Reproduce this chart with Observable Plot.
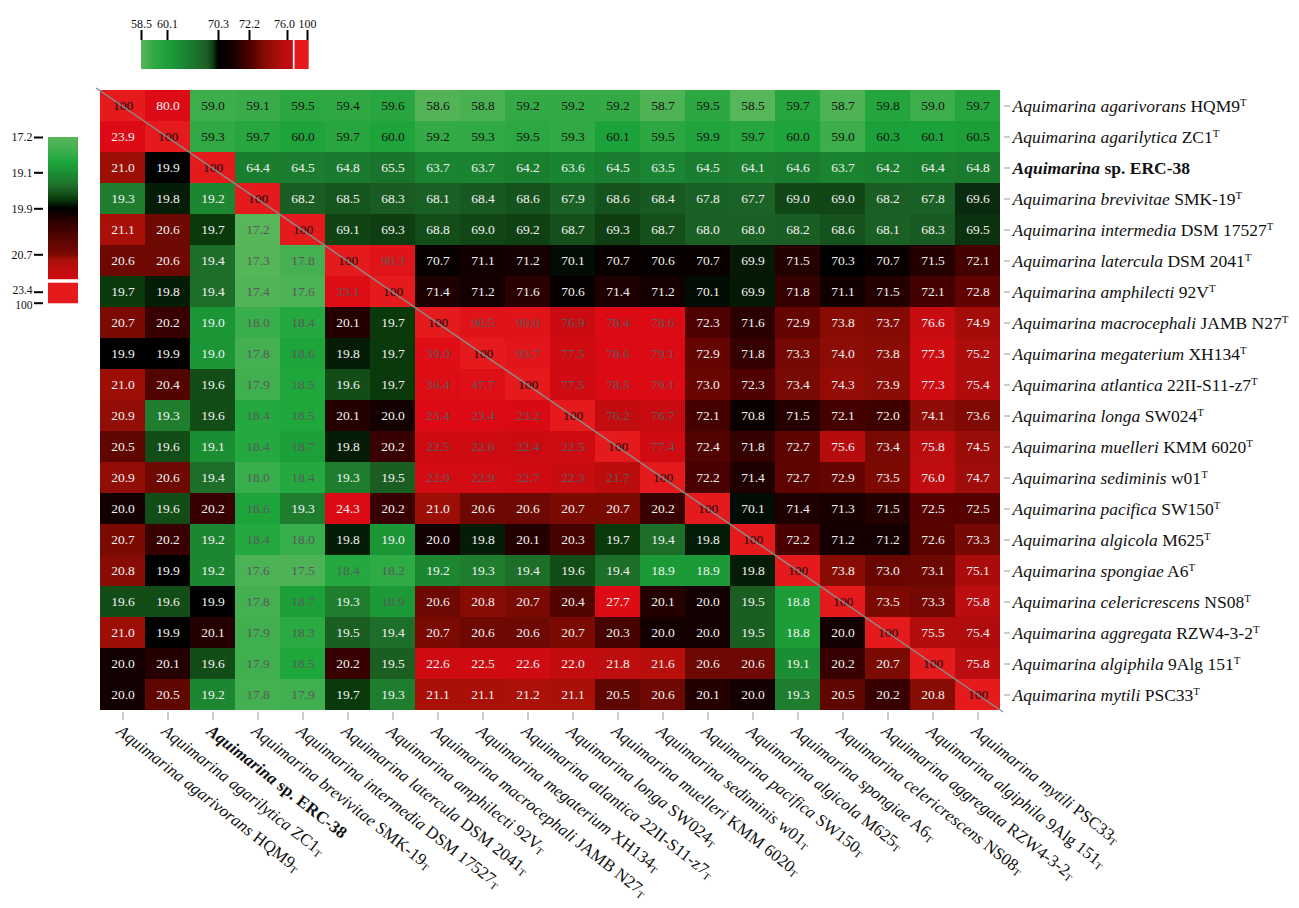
<!DOCTYPE html>
<html><head><meta charset="utf-8">
<script src="https://cdn.jsdelivr.net/npm/d3@7"></script>
<script src="https://cdn.jsdelivr.net/npm/@observablehq/plot@0.6"></script>
<style>
body{margin:0;background:#fff;}
#wrap{position:relative;width:1299px;height:908px;overflow:hidden;}
#wrap svg{position:absolute;left:0;top:0;max-width:none;}
</style></head><body><div id="wrap"></div>
<script>
const FONT = '"Liberation Serif","Times New Roman",serif';

// ---------- data ----------
const genus = "Aquimarina";
const epithets = ["agarivorans","agarilytica","sp.","brevivitae","intermedia","latercula","amphilecti","macrocephali","megaterium","atlantica","longa","muelleri","sediminis","pacifica","algicola","spongiae","celericrescens","aggregata","algiphila","mytili"];
const strains = ["HQM9","ZC1","ERC-38","SMK-19","DSM 17527","DSM 2041","92V","JAMB N27","XH134","22II-S11-z7","SW024","KMM 6020","w01","SW150","M625","A6","NS08","RZW4-3-2","9Alg 151","PSC33"];
const isTypeStrain = [true,true,false,true,true,true,true,true,true,true,true,true,true,true,true,true,true,true,true,true];
const focalIndex = 2;
// same-species groups (cells inside a group have dimmed text)
const clusterIds = [0,1,2,3,4,5,5,6,6,6,6,6,6,7,8,9,10,11,12,13];

// upper triangle: ANI (%), lower triangle: dDDH (%)
const matrixRows = [
  [100,80.0,59.0,59.1,59.5,59.4,59.6,58.6,58.8,59.2,59.2,59.2,58.7,59.5,58.5,59.7,58.7,59.8,59.0,59.7],
  [23.9,100,59.3,59.7,60.0,59.7,60.0,59.2,59.3,59.5,59.3,60.1,59.5,59.9,59.7,60.0,59.0,60.3,60.1,60.5],
  [21.0,19.9,100,64.4,64.5,64.8,65.5,63.7,63.7,64.2,63.6,64.5,63.5,64.5,64.1,64.6,63.7,64.2,64.4,64.8],
  [19.3,19.8,19.2,100,68.2,68.5,68.3,68.1,68.4,68.6,67.9,68.6,68.4,67.8,67.7,69.0,69.0,68.2,67.8,69.6],
  [21.1,20.6,19.7,17.2,100,69.1,69.3,68.8,69.0,69.2,68.7,69.3,68.7,68.0,68.0,68.2,68.6,68.1,68.3,69.5],
  [20.6,20.6,19.4,17.3,17.8,100,90.3,70.7,71.1,71.2,70.1,70.7,70.6,70.7,69.9,71.5,70.3,70.7,71.5,72.1],
  [19.7,19.8,19.4,17.4,17.6,33.1,100,71.4,71.2,71.6,70.6,71.4,71.2,70.1,69.9,71.8,71.1,71.5,72.1,72.8],
  [20.7,20.2,19.0,18.0,18.4,20.1,19.7,100,90.5,90.0,76.9,78.4,78.6,72.3,71.6,72.9,73.8,73.7,76.6,74.9],
  [19.9,19.9,19.0,17.8,18.6,19.8,19.7,39.0,100,93.7,77.5,78.6,79.1,72.9,71.8,73.3,74.0,73.8,77.3,75.2],
  [21.0,20.4,19.6,17.9,18.5,19.6,19.7,36.4,47.7,100,77.5,78.5,79.1,73.0,72.3,73.4,74.3,73.9,77.3,75.4],
  [20.9,19.3,19.6,18.4,18.5,20.1,20.0,23.4,23.4,23.2,100,76.2,76.7,72.1,70.8,71.5,72.1,72.0,74.1,73.6],
  [20.5,19.6,19.1,18.4,18.7,19.8,20.2,22.5,22.6,22.4,22.5,100,77.4,72.4,71.8,72.7,75.6,73.4,75.8,74.5],
  [20.9,20.6,19.4,18.0,18.4,19.3,19.5,22.9,22.9,22.7,22.3,21.7,100,72.2,71.4,72.7,72.9,73.5,76.0,74.7],
  [20.0,19.6,20.2,18.6,19.3,24.3,20.2,21.0,20.6,20.6,20.7,20.7,20.2,100,70.1,71.4,71.3,71.5,72.5,72.5],
  [20.7,20.2,19.2,18.4,18.0,19.8,19.0,20.0,19.8,20.1,20.3,19.7,19.4,19.8,100,72.2,71.2,71.2,72.6,73.3],
  [20.8,19.9,19.2,17.6,17.5,18.4,18.2,19.2,19.3,19.4,19.6,19.4,18.9,18.9,19.8,100,73.8,73.0,73.1,75.1],
  [19.6,19.6,19.9,17.8,18.7,19.3,18.9,20.6,20.8,20.7,20.4,27.7,20.1,20.0,19.5,18.8,100,73.5,73.3,75.8],
  [21.0,19.9,20.1,17.9,18.3,19.5,19.4,20.7,20.6,20.6,20.7,20.3,20.0,20.0,19.5,18.8,20.0,100,75.5,75.4],
  [20.0,20.1,19.6,17.9,18.5,20.2,19.5,22.6,22.5,22.6,22.0,21.8,21.6,20.6,20.6,19.1,20.2,20.7,100,75.8],
  [20.0,20.5,19.2,17.8,17.9,19.7,19.3,21.1,21.1,21.2,21.1,20.5,20.6,20.1,20.0,19.3,20.5,20.2,20.8,100]
];

const topLegendTicks = [58.5,60.1,70.3,72.2,76.0,100];
const leftLegendTicks = [17.2,19.1,19.9,20.7,23.4,100];

// colour ramps
const upperStops  = [58.5,59.2,60.1,64.5,68.2,69.3,70.3,71.2,72.2,73.8,76.0,78.5,100];
const upperColors = ["#58b65a","#34aa46","#1ca23a","#1a7d2f","#1a5e24","#0e3e12","#000000","#140000","#4a0000","#880c04","#c00c10","#dc0a14","#e41a1c"];
const lowerStops  = [17.2,17.8,18.5,19.0,19.3,19.5,19.7,19.9,20.2,20.7,21.1,22.0,23.4,100];
const lowerColors = ["#58b65a","#44b052","#1ea83c","#1a9636","#1e7e2e","#1a5e22","#0a3a0c","#000000","#380000","#7a0a02","#a81008","#c40c10","#dc0a14","#e41a1c"];

// ---------- scales ----------
const upperColor = Plot.scale({color:{type:"linear",domain:upperStops,range:upperColors,clamp:true,interpolate:"rgb"}});
const lowerColor = Plot.scale({color:{type:"linear",domain:lowerStops,range:lowerColors,clamp:true,interpolate:"rgb"}});

const names = epithets.map((e,i)=>`${genus} ${e} ${strains[i]}`);
const cells = [];
matrixRows.forEach((row,i)=>row.forEach((v,j)=>cells.push({i,j,v})));

const fillOf = d => d.j >= d.i ? upperColor.apply(d.v) : lowerColor.apply(d.v);
function textColorOf(d){
  if (d.i === d.j) return "#111";
  if (clusterIds[d.i] === clusterIds[d.j]) return "#5a5a5a";
  if (d.j > d.i) return d.v < 61 ? "#111" : "#f2f2f2";
  return (d.v < 18.8 || (d.j < 7 && d.v < 19.0)) ? "#5a5a5a" : "#f2f2f2";
}
const fmt = v => v === 100 ? "100" : v.toFixed(1);

// ---------- main heatmap ----------
const chart = Plot.plot({
  width:1299, height:908,
  marginLeft:96, marginRight:296, marginTop:88, marginBottom:196,
  style:{background:"transparent", fontFamily:FONT, overflow:"visible"},
  x:{domain:names, padding:0},
  y:{domain:names, padding:0},
  marks:[
    Plot.cell(cells,{x:d=>names[d.j], y:d=>names[d.i], fill:fillOf, shapeRendering:"crispEdges"}),
    Plot.text(cells,{x:d=>names[d.j], y:d=>names[d.i], text:d=>fmt(d.v), fill:textColorOf, fontSize:13.5, fontFamily:FONT}),
    Plot.axisY({anchor:"right", tickSize:6, tickPadding:3, stroke:"#999", fill:"#111", fontSize:17.5, fontFamily:FONT, tickFormat:d=>d}),
    Plot.axisX({anchor:"bottom", tickSize:8, tickPadding:3, tickRotate:38, textAnchor:"start", lineAnchor:"top", stroke:"#999", fill:"#111", fontSize:17, fontFamily:FONT, tickFormat:d=>d})
  ]
});
document.getElementById("wrap").appendChild(chart);

// rich tick labels (italic names, bold focal strain, superscript T)
const idxOf = new Map(names.map((n,i)=>[n,i]));
function richLabel(el, i, axis){
  const t = d3.select(el);
  t.text(null);
  if (i === focalIndex){
    t.append("tspan").attr("font-weight","bold").attr("font-style","italic").text(genus);
    t.append("tspan").attr("font-weight","bold").text(` ${epithets[i]} ${strains[i]}`);
  } else {
    t.append("tspan").attr("font-style","italic").text(`${genus} ${epithets[i]}`);
    t.append("tspan").text(` ${strains[i]}`);
    if (isTypeStrain[i]) t.append("tspan").attr("font-size","0.62em").attr("dy", axis==="y" ? "-0.55em" : "0.2em").text("T");
  }
}
const svg = d3.select(chart);
svg.selectAll('g[aria-label="y-axis tick label"] text').each(function(){ const i = idxOf.get(this.textContent); if (i != null) richLabel(this,i,"y"); });
svg.selectAll('g[aria-label="x-axis tick label"] text').each(function(){ const i = idxOf.get(this.textContent); if (i != null) richLabel(this,i,"x"); });

// diagonal line
const xs = chart.scale("x"), ys = chart.scale("y");
svg.append("line")
  .attr("x1", xs.range[0]).attr("y1", ys.range[0])
  .attr("x2", xs.range[1]).attr("y2", ys.range[1])
  .attr("stroke","#8c8c8c").attr("stroke-width",1.4);

// ---------- legends ----------
function addGradient(plotSvg, id, horizontal, scale, colorScale, v0, v1, cap){
  const s = d3.select(plotSvg);
  const defs = s.insert("defs", ":first-child");
  const p0 = scale.apply(v0), p1 = scale.apply(v1);
  const g = defs.append("linearGradient").attr("id", id).attr("gradientUnits","userSpaceOnUse");
  if (horizontal) g.attr("x1",p0).attr("x2",p1).attr("y1",0).attr("y2",0);
  else g.attr("x1",0).attr("x2",0).attr("y1",p0).attr("y2",p1);
  const N = 120;
  for (let k=0;k<=N;k++){
    const p = p0 + (p1-p0)*k/N;
    const v = Math.min(scale.invert(p), cap);
    g.append("stop").attr("offset", k/N).attr("stop-color", colorScale.apply(v));
  }
}

// top legend (ANI)
const topRange = [141,167,218,249,287,307];
const topLegend = Plot.plot({
  width:330, height:75, marginTop:39, marginBottom:6, marginLeft:0, marginRight:0,
  style:{background:"transparent", fontFamily:FONT, overflow:"visible"},
  x:{type:"linear", domain:topLegendTicks, range:topRange},
  marks:[
    Plot.rect([{a:58.5,b:83}],{x1:"a",x2:"b",insetTop:1,fill:"url(#topGrad)"}),
    Plot.rect([{a:85,b:102}],{x1:"a",x2:"b",insetTop:1,fill:upperColor.apply(100)}),
    Plot.axisX(topLegendTicks,{anchor:"top", tickSize:10, strokeWidth:2, stroke:"#000", tickFormat:null, text:null}),
    Plot.text(topLegendTicks.filter(d=>d!==76.0),{x:d=>d, frameAnchor:"top", dy:-12, lineAnchor:"bottom", text:fmt, fill:"#111", fontSize:12, fontFamily:FONT}),
    Plot.text(topLegendTicks.filter(d=>d===76.0),{x:d=>d, frameAnchor:"top", dy:-12, dx:-3, lineAnchor:"bottom", text:fmt, fill:"#111", fontSize:12, fontFamily:FONT})
  ]
});
document.getElementById("wrap").appendChild(topLegend);
addGradient(topLegend, "topGrad", true, topLegend.scale("x"), upperColor, 58.5, 83, 76.0);

// left legend (dDDH)
const leftRange = [137,172.3,208.3,254.3,291.7,302.7];
const leftLegend = Plot.plot({
  width:90, height:320, marginTop:0, marginBottom:0, marginLeft:43, marginRight:12,
  style:{background:"transparent", fontFamily:FONT, overflow:"visible"},
  y:{type:"linear", domain:leftLegendTicks, range:leftRange},
  marks:[
    Plot.rect([{a:17.2,b:22.5}],{y1:"a",y2:"b",insetLeft:5,fill:"url(#leftGrad)"}),
    Plot.rect([{a:22.75,b:104}],{y1:"a",y2:"b",insetLeft:5,fill:lowerColor.apply(100)}),
    Plot.axisY(leftLegendTicks,{anchor:"left", tickSize:9, strokeWidth:2, stroke:"#000", tickFormat:null, text:null}),
    Plot.text(leftLegendTicks.filter(d=>d!==23.4 && d!==100),{y:d=>d, frameAnchor:"left", dx:-11, textAnchor:"end", text:fmt, fill:"#111", fontSize:12, fontFamily:FONT}),
    Plot.text(leftLegendTicks.filter(d=>d===23.4),{y:d=>d, frameAnchor:"left", dx:-11, dy:-2, textAnchor:"end", text:fmt, fill:"#111", fontSize:11.5, fontFamily:FONT}),
    Plot.text(leftLegendTicks.filter(d=>d===100),{y:d=>d, frameAnchor:"left", dx:-11, dy:2.5, textAnchor:"end", text:fmt, fill:"#111", fontSize:11.5, fontFamily:FONT})
  ]
});
document.getElementById("wrap").appendChild(leftLegend);
addGradient(leftLegend, "leftGrad", false, leftLegend.scale("y"), lowerColor, 17.2, 22.5, 22.5);
</script></body></html>
